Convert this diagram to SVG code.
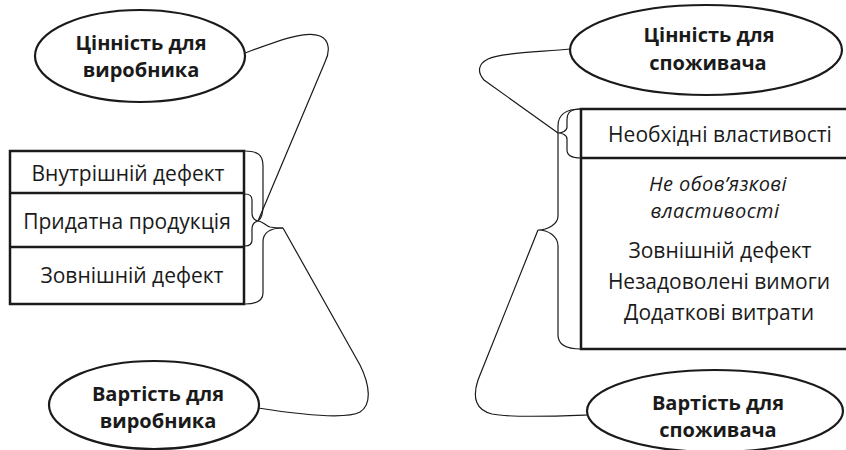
<svg xmlns="http://www.w3.org/2000/svg" width="846" height="450" viewBox="0 0 846 450">
<style>
.bg{fill:#fff}
.box{fill:none;stroke:#1a1a1a;stroke-width:2.5}
.ell{fill:#fff;stroke:#1a1a1a;stroke-width:2.2}
.con{fill:none;stroke:#1a1a1a;stroke-width:1.2}
.t{font-family:"Open Sans","Noto Sans","DejaVu Sans",sans-serif;font-size:21px;fill:#1a1a1a;text-anchor:middle}
.b{font-weight:bold;font-size:20px}
.i{font-style:italic;font-size:20px;letter-spacing:0.4px}
</style>
<rect class="bg" x="0" y="0" width="846" height="450"/>
<g id="connectors">
  <path class="con" d="M245,151 C258,151 263,155 263,166 L263,205 C263,214 261,219 258,221"/>
  <path class="con" d="M245,194 C250,194 252,196 252,200 L252,213 C252,217 254,220 258,221 C254,222 252,225 252,229 L252,240 C252,244 250,246 245,246"/>
  <path class="con" d="M283,228 C272,228 263,231 263,242 L263,293 C263,300 257,304 245,304"/>
  <path class="con" d="M258,221 C262,221 266,226 270,227 C275,228 279,228 283,228"/>
  <path class="con" d="M245,53 C275,42 305,30 320,36 C330,40 330,52 325,62 L258,221"/>
  <path class="con" d="M283,228 L360,365 C370,385 372,405 360,412 C345,420 290,413 258,408"/>
  <path class="con" d="M581,109 C570,109 567,113 567,120 L567,127 C567,131 562,133 558,133 C562,133 567,135 567,139 L567,150 C567,156 572,158 581,158"/>
  <path class="con" d="M581,109 C565,109 558,115 558,126 L558,216 C558,224 548,230 538,230 C548,230 558,236 558,246 L558,335 C558,344 565,349 581,349"/>
  <path class="con" d="M570,49 C540,52 500,53 488,59 C478,64 477,72 484,80 L558,133"/>
  <path class="con" d="M538,230 L478,380 C472,398 476,410 492,414 C510,418 560,416 587,415"/>
</g>
<g id="node-left-box">
  <rect class="box" x="10" y="151" width="234" height="153"/>
  <line class="box" x1="10" y1="193" x2="244" y2="193"/>
  <line class="box" x1="10" y1="247" x2="244" y2="247"/>
  <text class="t" x="128" y="181">Внутрішній дефект</text>
  <text class="t" x="127" y="229">Придатна продукція</text>
  <text class="t" x="132" y="283">Зовнішній дефект</text>
</g>
<g id="node-right-box">
  <path class="box" d="M848,109 L581,109 L581,349 L848,349"/>
  <line class="box" x1="581" y1="158" x2="848" y2="158"/>
  <text class="t" x="720" y="142">Необхідні властивості</text>
  <text class="t i" x="718" y="191">Не обов’язкові</text>
  <text class="t i" x="715" y="218">властивості</text>
  <text class="t" x="720" y="258">Зовнішній дефект</text>
  <text class="t" x="719" y="289">Незадоволені вимоги</text>
  <text class="t" x="719" y="320">Додаткові витрати</text>
</g>
<g id="node-value-producer">
  <ellipse class="ell" cx="140" cy="56" rx="105" ry="46"/>
  <text class="t b" x="141" y="50">Цінність для</text>
  <text class="t b" x="141" y="77">виробника</text>
</g>
<g id="node-cost-producer">
  <ellipse class="ell" cx="154" cy="405" rx="105" ry="44"/>
  <text class="t b" x="158" y="401">Вартість для</text>
  <text class="t b" x="158" y="428">виробника</text>
</g>
<g id="node-value-consumer">
  <ellipse class="ell" cx="706" cy="50" rx="136" ry="45"/>
  <text class="t b" x="709" y="42">Цінність для</text>
  <text class="t b" x="708" y="70">споживача</text>
</g>
<g id="node-cost-consumer">
  <ellipse class="ell" cx="715" cy="411" rx="128" ry="41"/>
  <text class="t b" x="718" y="410">Вартість для</text>
  <text class="t b" x="718" y="437">споживача</text>
</g>
</svg>
